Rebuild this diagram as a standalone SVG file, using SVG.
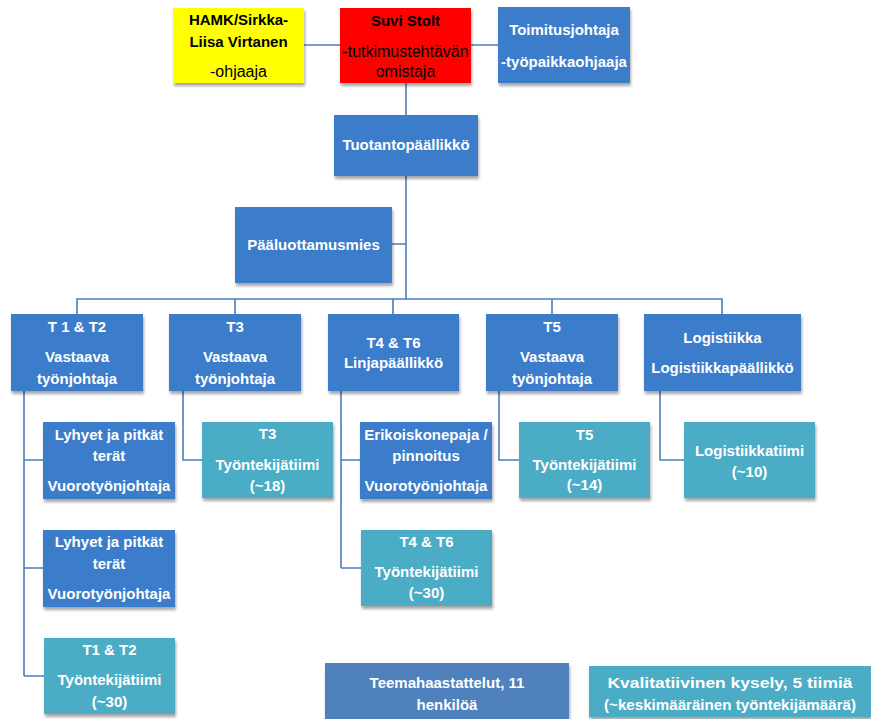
<svg xmlns="http://www.w3.org/2000/svg" width="871" height="719" viewBox="0 0 871 719">
<defs>
<filter id="sh" x="-10%" y="-10%" width="130%" height="140%">
<feDropShadow dx="1" dy="3" stdDeviation="1.8" flood-color="#000" flood-opacity="0.35"/>
</filter>
<style>
.box{filter:url(#sh)}
.blue{fill:#3B7BCB}
.teal{fill:#4BACC6}
.legblue{fill:#4F81BD}
.red{fill:#FF0000}
.yel{fill:#FFFF00}
text{font-family:"Liberation Sans",Arial,sans-serif;font-size:15px;font-weight:bold;text-anchor:middle;fill:#fff}
.dark{fill:#000}
.reg{font-weight:normal;font-size:16px}
.conn{fill:none;stroke:#4A7EBB;stroke-width:1.6}
</style>
</defs>
<rect width="871" height="719" fill="#fff"/>
<g id="connectors" class="conn">
<path d="M304 45H340M471 45H498"/>
<path d="M406 83V115M406 176V299M392 244H406"/>
<path d="M77 314V299H722V314M235 299V314M393 299V314M552 299V314"/>
<path d="M24 391V676M24 460H43M24 568H43M24 676H44"/>
<path d="M183 391V460H202"/>
<path d="M341 391V568M341 460H360M341 568H361"/>
<path d="M499 391V460H519"/>
<path d="M660 391V460H684"/>
</g>
<g id="hamk">
<rect class="box yel" x="173" y="8" width="131" height="75"/>
<text class="dark" x="238.5" y="25">HAMK/Sirkka-</text>
<text class="dark" x="238.5" y="47">Liisa Virtanen</text>
<text class="dark reg" x="238.5" y="77">-ohjaaja</text>
</g>
<g id="suvi">
<rect class="box red" x="340" y="8" width="131" height="75"/>
<text class="dark" x="405.5" y="26">Suvi Stolt</text>
<text class="dark reg" x="405.5" y="57">-tutkimustehtävän</text>
<text class="dark reg" x="405.5" y="77">omistaja</text>
</g>
<g id="toimitusjohtaja">
<rect class="box blue" x="498" y="7" width="132" height="76"/>
<text x="564" y="35">Toimitusjohtaja</text>
<text x="564" y="67">-työpaikkaohjaaja</text>
</g>
<g id="tuotantopaallikko">
<rect class="box blue" x="334" y="115" width="144" height="61"/>
<text x="406" y="150">Tuotantopäällikkö</text>
</g>
<g id="paaluottamusmies">
<rect class="box blue" x="235" y="207" width="157" height="76"/>
<text x="313.5" y="250">Pääluottamusmies</text>
</g>
<g id="t1t2">
<rect class="box blue" x="11" y="314" width="132" height="77"/>
<text x="77" y="332">T 1 &amp; T2</text>
<text x="77" y="362">Vastaava</text>
<text x="77" y="384">työnjohtaja</text>
</g>
<g id="t3">
<rect class="box blue" x="169" y="314" width="132" height="77"/>
<text x="235" y="332">T3</text>
<text x="235" y="362">Vastaava</text>
<text x="235" y="384">työnjohtaja</text>
</g>
<g id="t4t6">
<rect class="box blue" x="328" y="314" width="131" height="77"/>
<text x="393.5" y="348">T4 &amp; T6</text>
<text x="393.5" y="368">Linjapäällikkö</text>
</g>
<g id="t5">
<rect class="box blue" x="486" y="314" width="132" height="77"/>
<text x="552" y="332">T5</text>
<text x="552" y="362">Vastaava</text>
<text x="552" y="384">työnjohtaja</text>
</g>
<g id="logistiikka">
<rect class="box blue" x="644" y="314" width="157" height="77"/>
<text x="722.5" y="343">Logistiikka</text>
<text x="722.5" y="373">Logistiikkapäällikkö</text>
</g>
<g id="lyhyet1">
<rect class="box blue" x="43" y="422" width="132" height="77"/>
<text x="109" y="440">Lyhyet ja pitkät</text>
<text x="109" y="461">terät</text>
<text x="109" y="491">Vuorotyönjohtaja</text>
</g>
<g id="t3tiimi">
<rect class="box teal" x="202" y="422" width="131" height="76"/>
<text x="267.5" y="439">T3</text>
<text x="267.5" y="470">Työntekijätiimi</text>
<text x="267.5" y="491">(~18)</text>
</g>
<g id="erikoiskonepaja">
<rect class="box blue" x="360" y="422" width="132" height="77"/>
<text x="426" y="440">Erikoiskonepaja /</text>
<text x="426" y="461">pinnoitus</text>
<text x="426" y="491">Vuorotyönjohtaja</text>
</g>
<g id="t5tiimi">
<rect class="box teal" x="519" y="422" width="131" height="76"/>
<text x="584.5" y="440">T5</text>
<text x="584.5" y="470">Työntekijätiimi</text>
<text x="584.5" y="490">(~14)</text>
</g>
<g id="logistiikkatiimi">
<rect class="box teal" x="684" y="422" width="131" height="76"/>
<text x="749.5" y="456">Logistiikkatiimi</text>
<text x="749.5" y="477">(~10)</text>
</g>
<g id="lyhyet2">
<rect class="box blue" x="43" y="530" width="132" height="77"/>
<text x="109" y="547">Lyhyet ja pitkät</text>
<text x="109" y="569">terät</text>
<text x="109" y="599">Vuorotyönjohtaja</text>
</g>
<g id="t4t6tiimi">
<rect class="box teal" x="361" y="530" width="131" height="76"/>
<text x="426.5" y="547">T4 &amp; T6</text>
<text x="426.5" y="577">Työntekijätiimi</text>
<text x="426.5" y="598">(~30)</text>
</g>
<g id="t1t2tiimi">
<rect class="box teal" x="44" y="638" width="131" height="76"/>
<text x="109.5" y="655">T1 &amp; T2</text>
<text x="109.5" y="685">Työntekijätiimi</text>
<text x="109.5" y="707">(~30)</text>
</g>
<g id="teemahaastattelut">
<rect class="box legblue" x="325" y="663" width="244" height="60"/>
<text x="447" y="688">Teemahaastattelut, 11</text>
<text x="447" y="710">henkilöä</text>
</g>
<g id="kvalitatiivinen">
<rect class="box teal" x="589" y="666" width="282" height="51"/>
<text x="730" y="688" textLength="245" lengthAdjust="spacingAndGlyphs">Kvalitatiivinen kysely, 5 tiimiä</text>
<text x="730" y="710" textLength="252" lengthAdjust="spacingAndGlyphs">(~keskimääräinen työntekijämäärä)</text>
</g>
</svg>
